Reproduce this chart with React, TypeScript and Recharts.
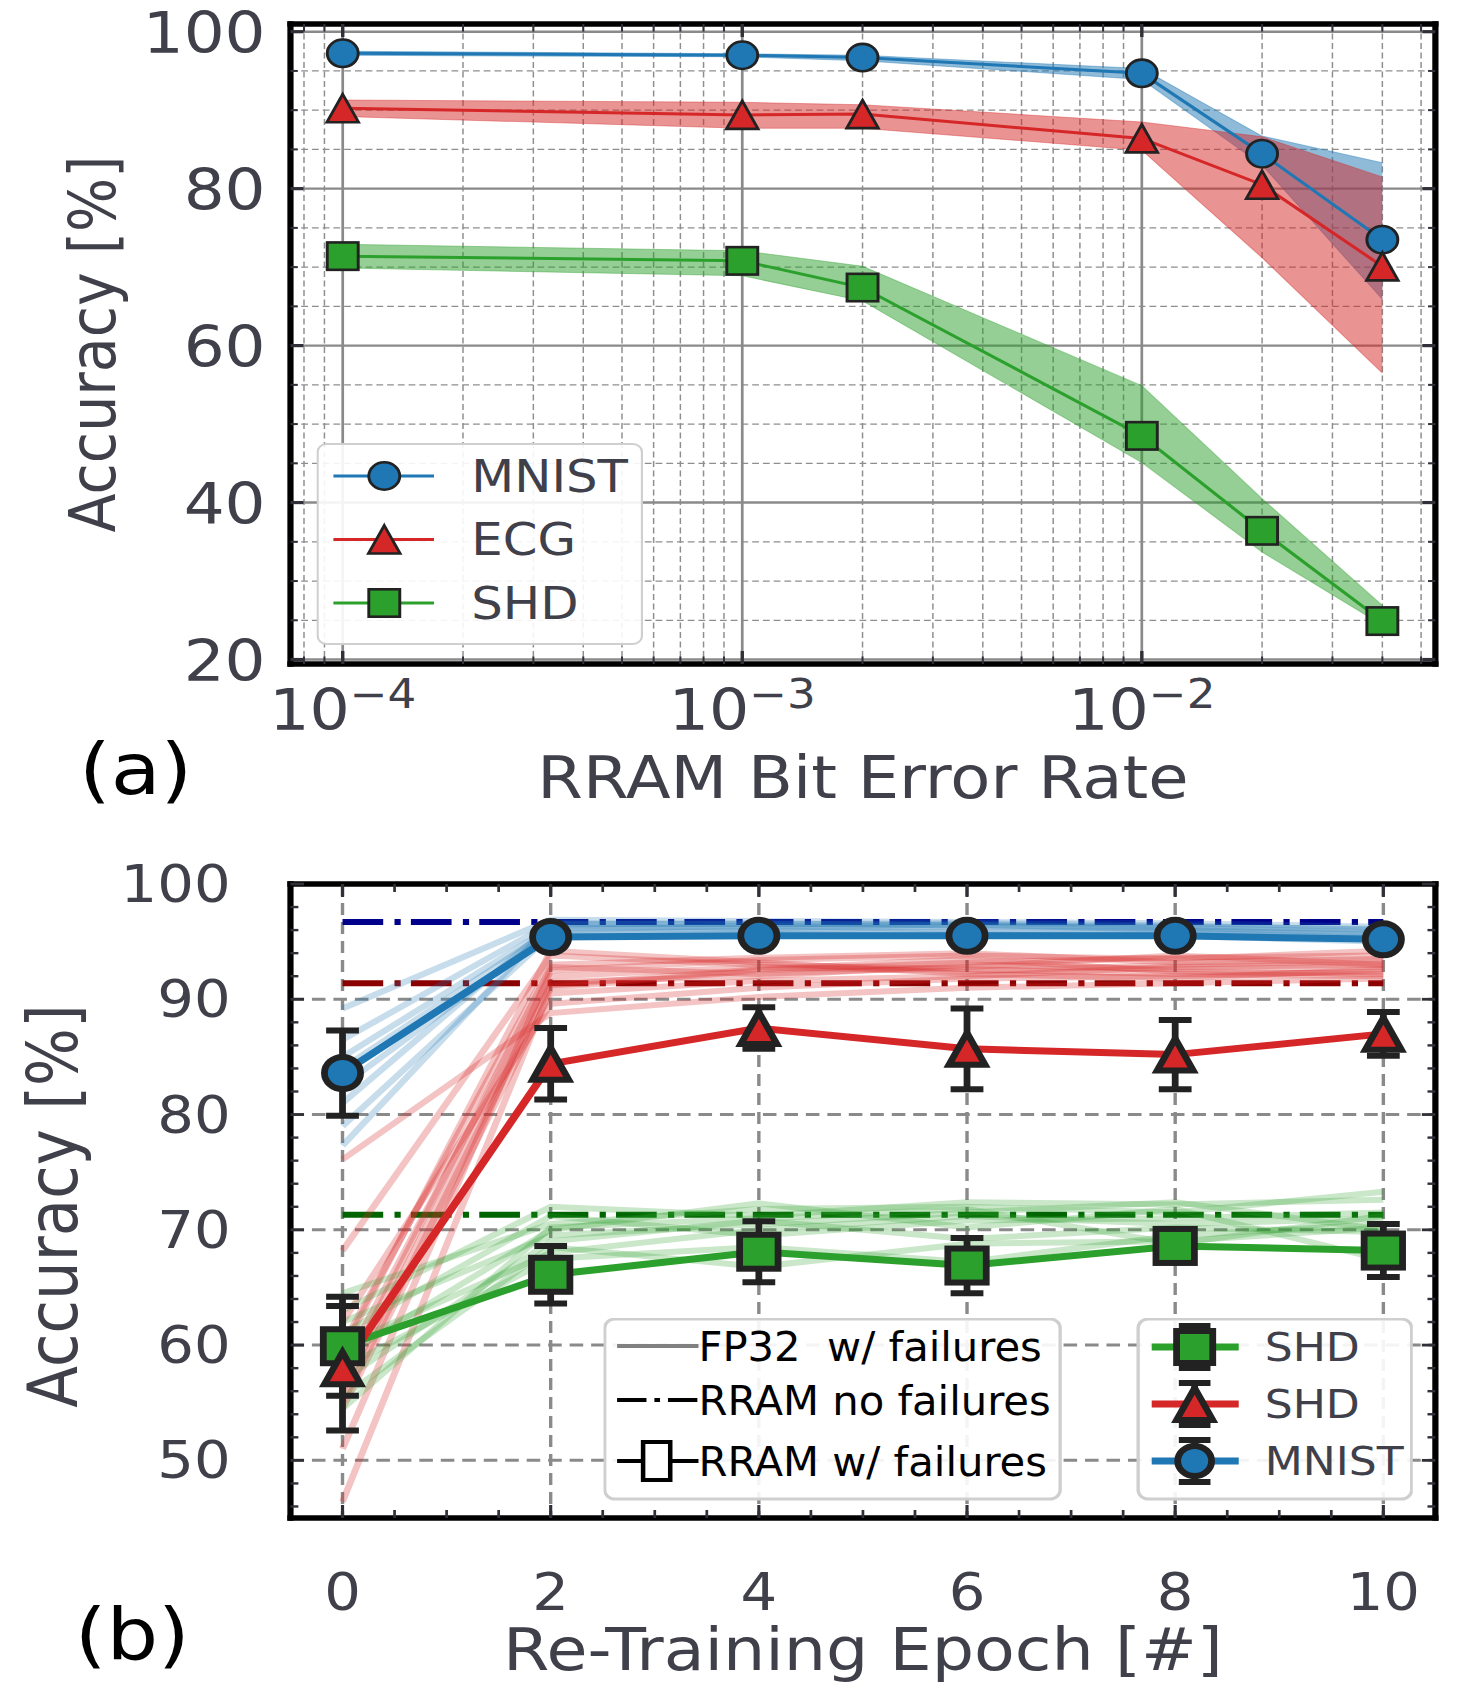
import React from "react";
import {
  Area,
  CartesianGrid,
  ComposedChart,
  ErrorBar,
  Legend,
  Line,
  XAxis,
  YAxis,
} from "recharts";

// The reference is a little wider than tall-true: draw narrow, then stretch on x.
const FIG_W = 1458;
const INNER_W = 1290;
const STRETCH = FIG_W / INNER_W;

const FONT = "'DejaVu Sans', sans-serif";
const FONT_COND = "'DejaVu Sans Condensed', 'DejaVu Sans', sans-serif";
const INK = "#40404a";
const TICK = "#303038";
const BLUE = "#1f77b4";
const RED = "#d62728";
const GREEN = "#2ca02c";
const EDGE = "#222222";
const FRAME = { stroke: "#000", strokeWidth: 5.5, strokeLinecap: "square" as const };

// ---------- (a) accuracy vs RRAM bit error rate ----------
const bitErrorRates = [1e-4, 1e-3, 2e-3, 1e-2, 2e-2, 4e-2];
const mnistAcc = [97.25, 97.0, 96.7, 94.7, 84.45, 73.5];
const mnistLow = [97.0, 96.8, 96.3, 93.9, 83.0, 65.9];
const mnistHigh = [97.5, 97.2, 97.0, 95.3, 86.7, 83.3];
const ecgAcc = [90.25, 89.4, 89.5, 86.4, 80.5, 70.1];
const ecgLow = [89.2, 87.7, 87.7, 84.9, 71.2, 56.5];
const ecgHigh = [91.3, 91.0, 90.7, 88.5, 86.6, 81.5];
const shdAcc = [71.4, 70.8, 67.4, 48.5, 36.4, 24.9];
const shdLow = [69.9, 68.9, 65.7, 45.1, 33.7, 24.4];
const shdHigh = [72.9, 72.1, 70.1, 54.9, 40.5, 26.9];

const berDomain = [7.4e-5, 0.0543];
const berMajor = [1e-4, 1e-3, 1e-2];
const berExponents = ["−4", "−3", "−2"];
const berMinor = [
  8e-5, 9e-5, 2e-4, 3e-4, 4e-4, 5e-4, 6e-4, 7e-4, 8e-4, 9e-4, 2e-3, 3e-3,
  4e-3, 5e-3, 6e-3, 7e-3, 8e-3, 9e-3, 2e-2, 3e-2, 4e-2, 5e-2,
];
const accDomainA = [19.43, 100.98];
const accMajorA = [20, 40, 60, 80, 100];
const accMinorA = [25, 30, 35, 45, 50, 55, 65, 70, 75, 85, 90, 95];
const legendA = ["MNIST", "ECG", "SHD"];

const tableA = bitErrorRates.map((ber, i) => ({
  ber,
  mnist: mnistAcc[i],
  mnistBand: [mnistLow[i], mnistHigh[i]],
  ecg: ecgAcc[i],
  ecgBand: [ecgLow[i], ecgHigh[i]],
  shd: shdAcc[i],
  shdBand: [shdLow[i], shdHigh[i]],
}));

// ---------- (b) accuracy vs re-training epoch ----------
const epochs = [0, 2, 4, 6, 8, 10];
const mnistMean = [83.6, 95.4, 95.5, 95.5, 95.5, 95.2];
const mnistStd = [3.7, 0.4, 0.3, 0.3, 0.3, 0.4];
const ecgMean = [58.0, 84.4, 87.5, 85.7, 85.2, 87.0];
const ecgStd = [5.4, 3.1, 1.8, 3.5, 3.0, 1.9];
const shdMean = [59.9, 66.1, 68.1, 66.9, 68.6, 68.2];
const shdStd = [4.3, 2.5, 2.65, 2.4, 1.2, 2.3];
const mnistNoFailure = 96.7;
const ecgNoFailure = 91.4;
const shdNoFailure = 71.3;

// single runs with failures (faint lines)
const mnistRuns = [
  [89.2, 96.9, 96.8, 96.7, 96.6, 96.3],
  [86.5, 96.6, 96.5, 96.6, 96.4, 96.0],
  [85.0, 96.2, 96.1, 96.3, 96.2, 95.8],
  [84.0, 96.0, 96.4, 96.0, 95.9, 95.5],
  [82.5, 95.8, 95.9, 95.8, 95.8, 95.3],
  [81.0, 96.4, 96.2, 96.5, 96.0, 95.6],
  [79.0, 95.6, 95.7, 95.6, 95.5, 95.0],
  [77.3, 96.5, 96.6, 96.4, 96.3, 96.1],
];
const ecgRuns = [
  [76.1, 88.8, 90.2, 91.0, 91.4, 91.8],
  [68.2, 93.8, 93.0, 92.6, 92.2, 92.0],
  [51.0, 92.5, 93.4, 93.8, 93.5, 94.2],
  [46.4, 91.0, 92.5, 93.2, 93.6, 93.8],
  [58.0, 92.0, 92.8, 92.4, 93.0, 93.3],
  [56.0, 91.5, 92.0, 93.0, 92.6, 92.8],
  [54.5, 90.5, 91.6, 92.0, 92.8, 93.0],
  [60.0, 93.0, 93.6, 94.0, 93.2, 93.5],
  [62.0, 89.6, 91.0, 91.8, 92.0, 92.4],
  [57.0, 92.8, 92.2, 92.8, 93.8, 93.0],
  [55.0, 91.2, 92.6, 93.5, 92.4, 92.2],
  [59.5, 94.2, 93.2, 92.2, 91.8, 92.6],
];
const shdRuns = [
  [64.5, 70.5, 71.8, 72.0, 71.5, 73.3],
  [63.0, 72.0, 71.2, 72.4, 72.2, 72.6],
  [62.0, 69.5, 70.5, 71.5, 72.4, 70.0],
  [61.0, 71.2, 69.5, 70.8, 71.0, 71.5],
  [60.0, 68.0, 70.0, 71.2, 70.5, 71.0],
  [59.0, 70.0, 72.3, 70.2, 71.8, 67.4],
  [58.0, 67.5, 68.5, 67.2, 69.5, 70.5],
  [57.0, 69.0, 70.8, 69.2, 70.2, 69.8],
  [55.5, 68.5, 66.8, 68.8, 69.0, 70.2],
  [54.5, 70.2, 71.0, 71.8, 68.8, 71.2],
];

const epochDomain = [-0.5, 10.5];
const epochMajor = [0, 2, 4, 6, 8, 10];
const epochTicks = [0, 0.5, 1, 1.5, 2, 2.5, 3, 3.5, 4, 4.5, 5, 5.5, 6, 6.5, 7, 7.5, 8, 8.5, 9, 9.5, 10];
const accDomainB = [45, 100];
const accMajorB = [50, 60, 70, 80, 90, 100];
const accTicksB = [
  46, 48, 50, 52, 54, 56, 58, 60, 62, 64, 66, 68, 70, 72, 74, 76, 78, 80, 82,
  84, 86, 88, 90, 92, 94, 96, 98, 100,
];
const accGridB = [50, 60, 70, 80, 90];
const styleLegend = ["FP32  w/ failures", "RRAM no failures", "RRAM w/ failures"];
const datasetLegend = ["SHD", "SHD", "MNIST"];

const tableB = epochs.map((epoch, i) => {
  const row: Record<string, number> = {
    epoch,
    mnist: mnistMean[i],
    mnistErr: mnistStd[i],
    ecg: ecgMean[i],
    ecgErr: ecgStd[i],
    shd: shdMean[i],
    shdErr: shdStd[i],
    mnistRef: mnistNoFailure,
    ecgRef: ecgNoFailure,
    shdRef: shdNoFailure,
  };
  mnistRuns.forEach((run, k) => (row[`mnistRun${k}`] = run[i]));
  ecgRuns.forEach((run, k) => (row[`ecgRun${k}`] = run[i]));
  shdRuns.forEach((run, k) => (row[`shdRun${k}`] = run[i]));
  return row;
});

// ---------- shared drawing helpers ----------
type Shape = "circle" | "triangle" | "square";
type Side = "bottom" | "top" | "left" | "right";

function MarkerShape({ cx, cy, shape, fill, size, edgeWidth }: any) {
  if (cx == null || cy == null) return <g />;
  const common = { fill, stroke: EDGE, strokeWidth: edgeWidth, strokeLinejoin: "miter" as const };
  if (shape === "circle") return <circle cx={cx} cy={cy} r={size} {...common} />;
  if (shape === "square")
    return <rect x={cx - size} y={cy - size} width={size * 2} height={size * 2} {...common} />;
  return (
    <path
      d={`M${cx},${cy - size}L${cx + size},${cy + size}L${cx - size},${cy + size}Z`}
      {...common}
    />
  );
}

const dotRenderer = (shape: Shape, fill: string, size: number, edgeWidth: number) => (props: any) => (
  <MarkerShape
    key={`dot-${shape}-${props.index}`}
    cx={props.cx}
    cy={props.cy}
    shape={shape}
    fill={fill}
    size={size}
    edgeWidth={edgeWidth}
  />
);

const near = (a: number, b: number) => Math.abs(a - b) <= Math.abs(b) * 1e-6 + 1e-9;

function makeTick(
  side: Side,
  majors: number[],
  len: [number, number],
  widths: [number, number],
  label?: (value: number, x: number, y: number) => React.ReactNode
) {
  return (props: any) => {
    const { x, y, payload, index } = props;
    const v = Number(payload.value);
    const major = majors.some((m) => near(v, m));
    const l = major ? len[0] : len[1];
    const x2 = side === "left" ? x + l : side === "right" ? x - l : x;
    const y2 = side === "bottom" ? y - l : side === "top" ? y + l : y;
    return (
      <g key={`${side}-${index}`}>
        <line x1={x} y1={y} x2={x2} y2={y2} stroke={TICK} strokeWidth={major ? widths[0] : widths[1]} />
        {major && label ? label(v, x, y) : null}
      </g>
    );
  };
}

const berLabel = (v: number, x: number, y: number) => {
  const i = berMajor.findIndex((m) => near(v, m));
  return (
    <text x={x} y={y + 66} textAnchor="middle" fontSize={56} fill={INK} fontFamily={FONT}>
      10
      <tspan fontSize={40} dy={-22}>
        {berExponents[i]}
      </tspan>
    </text>
  );
};

const accLabelA = (v: number, x: number, y: number) => (
  <text x={x - 22} y={y + 21} textAnchor="end" fontSize={57} fill={INK} fontFamily={FONT}>
    {v}
  </text>
);

const accLabelB = (v: number, x: number, y: number) => (
  <text x={x - 53} y={y + 18} textAnchor="end" fontSize={51} fill={INK} fontFamily={FONT}>
    {v}
  </text>
);

const epochLabel = (v: number, x: number, y: number) => (
  <text x={x} y={y + 92} textAnchor="middle" fontSize={51} fill={INK} fontFamily={FONT}>
    {v}
  </text>
);

function LegendA() {
  const rows: [Shape, string][] = [
    ["circle", BLUE],
    ["triangle", RED],
    ["square", GREEN],
  ];
  return (
    <svg width={289} height={202} style={{ display: "block" }}>
      <rect x={1} y={1} width={287} height={200} rx={8} fill="#fff" fillOpacity={0.9} stroke="#cfcfcf" strokeWidth={2} />
      {rows.map(([shape, color], i) => {
        const cy = 33 + i * 63.5;
        return (
          <g key={legendA[i]}>
            <line x1={15} x2={104} y1={cy} y2={cy} stroke={color} strokeWidth={3} />
            <MarkerShape cx={60} cy={cy} shape={shape} fill={color} size={shape === "triangle" ? 14 : 13.7} edgeWidth={2.6} />
            <text x={137} y={cy + 16} fontSize={44} fill={INK} fontFamily={FONT}>
              {legendA[i]}
            </text>
          </g>
        );
      })}
    </svg>
  );
}

function LegendB() {
  const rightRows: [Shape, string, number][] = [
    ["square", GREEN, 29],
    ["triangle", RED, 86],
    ["circle", BLUE, 143],
  ];
  const rowY = [28, 82, 143];
  return (
    <svg width={716} height={183} style={{ display: "block" }}>
      <rect x={1} y={1} width={403} height={180} rx={9} fill="#fff" fillOpacity={0.9} stroke="#cfcfcf" strokeWidth={3} />
      <line x1={12} x2={84} y1={rowY[0]} y2={rowY[0]} stroke="#808080" strokeWidth={4} />
      <line x1={12} x2={84} y1={rowY[1]} y2={rowY[1]} stroke="#000" strokeWidth={4} strokeDasharray="26 7 5 7" />
      <line x1={12} x2={84} y1={rowY[2]} y2={rowY[2]} stroke="#000" strokeWidth={4} />
      <rect x={35} y={rowY[2] - 19} width={24} height={38} fill="#fff" stroke="#000" strokeWidth={4} />
      {styleLegend.map((t, i) => (
        <text
          key={t}
          x={84}
          y={rowY[i] + 15}
          fontSize={41}
          fill="#000"
          fontFamily={FONT_COND}
          style={{ whiteSpace: "pre", fontStretch: "condensed" }}
        >
          {t}
        </text>
      ))}
      <rect x={473} y={1} width={242} height={180} rx={9} fill="#fff" fillOpacity={0.9} stroke="#cfcfcf" strokeWidth={3} />
      {rightRows.map(([shape, color, cy], i) => (
        <g key={`${datasetLegend[i]}-${i}`}>
          <line x1={485} x2={562} y1={cy} y2={cy} stroke={color} strokeWidth={7} />
          <line x1={523} x2={523} y1={cy - 21} y2={cy + 21} stroke={EDGE} strokeWidth={6} />
          <line x1={509} x2={537} y1={cy - 21} y2={cy - 21} stroke={EDGE} strokeWidth={6} />
          <line x1={509} x2={537} y1={cy + 21} y2={cy + 21} stroke={EDGE} strokeWidth={6} />
          <MarkerShape cx={523} cy={cy} shape={shape} fill={color} size={shape === "circle" ? 15 : 16} edgeWidth={6} />
          <text x={585} y={cy + 14} fontSize={39} fill={INK} fontFamily={FONT}>
            {datasetLegend[i]}
          </text>
        </g>
      ))}
    </svg>
  );
}

function PanelTag({ text, x, y, w, h }: { text: string; x: number; y: number; w: number; h: number }) {
  return (
    <svg width={w} height={h} style={{ position: "absolute", left: 0, top: 0, pointerEvents: "none" }}>
      <text x={x} y={y} textAnchor="middle" fontSize={72} fill="#000" fontFamily={FONT}>
        {text}
      </text>
    </svg>
  );
}

function ChartA() {
  const H = 840;
  return (
    <div style={{ position: "relative", width: INNER_W, height: H }}>
      <ComposedChart width={INNER_W} height={H} data={tableA} margin={{ top: 23, right: 19, bottom: 0, left: 0 }}>
        <CartesianGrid
          horizontalValues={accMinorA}
          verticalValues={berMinor}
          stroke="#8e8e8e"
          strokeWidth={1.3}
          strokeDasharray="6 3.5"
        />
        <CartesianGrid horizontalValues={accMajorA} verticalValues={berMajor} stroke="#8a8a8a" strokeWidth={2.4} />
        <XAxis
          dataKey="ber"
          type="number"
          scale="log"
          domain={berDomain}
          allowDataOverflow
          ticks={[...berMajor, ...berMinor]}
          interval={0}
          tickSize={0}
          tickMargin={0}
          tickLine={false}
          stroke="#000"
          axisLine={FRAME}
          height={176}
          tick={makeTick("bottom", berMajor, [13, 7.5], [3, 1.8], berLabel)}
          label={(p: any) => (
            <text
              x={p.viewBox.x + p.viewBox.width / 2}
              y={p.viewBox.y + 134}
              textAnchor="middle"
              fontSize={58}
              fill={INK}
              fontFamily={FONT}
            >
              RRAM Bit Error Rate
            </text>
          )}
        />
        <XAxis
          xAxisId="top"
          orientation="top"
          dataKey="ber"
          type="number"
          scale="log"
          domain={berDomain}
          allowDataOverflow
          ticks={[...berMajor, ...berMinor]}
          interval={0}
          tickSize={0}
          tickMargin={0}
          tickLine={false}
          stroke="#000"
          axisLine={FRAME}
          height={1}
          tick={makeTick("top", berMajor, [13, 7.5], [3, 1.8])}
        />
        <YAxis
          type="number"
          domain={accDomainA}
          allowDataOverflow
          ticks={[...accMajorA, ...accMinorA]}
          interval={0}
          tickSize={0}
          tickMargin={0}
          tickLine={false}
          stroke="#000"
          axisLine={FRAME}
          width={257}
          tick={makeTick("left", accMajorA, [11.5, 6.5], [3.2, 2], accLabelA)}
          label={(p: any) => {
            const cx = 102;
            const cy = p.viewBox.y + p.viewBox.height / 2;
            return (
              <text
                x={cx}
                y={cy}
                transform={`rotate(-90, ${cx}, ${cy})`}
                textAnchor="middle"
                fontSize={57}
                fill={INK}
                fontFamily={FONT}
              >
                Accuracy [%]
              </text>
            );
          }}
        />
        <YAxis
          yAxisId="right"
          orientation="right"
          type="number"
          domain={accDomainA}
          allowDataOverflow
          ticks={[...accMajorA, ...accMinorA]}
          interval={0}
          tickSize={0}
          tickMargin={0}
          tickLine={false}
          stroke="#000"
          axisLine={FRAME}
          width={1}
          tick={makeTick("right", accMajorA, [11.5, 6.5], [3.2, 2])}
        />
        <Area dataKey="mnistBand" type="linear" fill={BLUE} fillOpacity={0.5} stroke={BLUE} strokeOpacity={0.4} strokeWidth={1} dot={false} activeDot={false} isAnimationActive={false} />
        <Area dataKey="ecgBand" type="linear" fill={RED} fillOpacity={0.5} stroke={RED} strokeOpacity={0.4} strokeWidth={1} dot={false} activeDot={false} isAnimationActive={false} />
        <Area dataKey="shdBand" type="linear" fill={GREEN} fillOpacity={0.5} stroke={GREEN} strokeOpacity={0.4} strokeWidth={1} dot={false} activeDot={false} isAnimationActive={false} />
        <Line dataKey="mnist" type="linear" stroke={BLUE} strokeWidth={3} dot={dotRenderer("circle", BLUE, 13.7, 2.6)} activeDot={false} isAnimationActive={false} />
        <Line dataKey="ecg" type="linear" stroke={RED} strokeWidth={3} dot={dotRenderer("triangle", RED, 14, 2.6)} activeDot={false} isAnimationActive={false} />
        <Line dataKey="shd" type="linear" stroke={GREEN} strokeWidth={3} dot={dotRenderer("square", GREEN, 13.7, 2.6)} activeDot={false} isAnimationActive={false} />
        <Legend
          layout="horizontal"
          verticalAlign="middle"
          align="center"
          wrapperStyle={{ left: 279.5, top: 443, width: 289, height: 202 }}
          content={() => <LegendA />}
        />
      </ComposedChart>
      <PanelTag text="(a)" x={120} y={794} w={INNER_W} h={H} />
    </div>
  );
}

function ChartB() {
  const H = 866;
  return (
    <div style={{ position: "relative", width: INNER_W, height: H }}>
      <ComposedChart width={INNER_W} height={H} data={tableB} margin={{ top: 43, right: 19, bottom: 0, left: 0 }}>
        <CartesianGrid
          horizontalValues={accGridB}
          verticalValues={epochMajor}
          stroke="#8a8a8a"
          strokeWidth={3}
          strokeDasharray="12 7"
        />
        <XAxis
          dataKey="epoch"
          type="number"
          domain={epochDomain}
          allowDataOverflow
          ticks={epochTicks}
          interval={0}
          tickSize={0}
          tickMargin={0}
          tickLine={false}
          stroke="#000"
          axisLine={FRAME}
          height={188}
          tick={makeTick("bottom", epochMajor, [13, 8], [2.8, 2.4], epochLabel)}
          label={(p: any) => (
            <text
              x={p.viewBox.x + p.viewBox.width / 2}
              y={p.viewBox.y + 152}
              textAnchor="middle"
              fontSize={59}
              fill={INK}
              fontFamily={FONT}
            >
              Re-Training Epoch [#]
            </text>
          )}
        />
        <XAxis
          xAxisId="top"
          orientation="top"
          dataKey="epoch"
          type="number"
          domain={epochDomain}
          allowDataOverflow
          ticks={epochTicks}
          interval={0}
          tickSize={0}
          tickMargin={0}
          tickLine={false}
          stroke="#000"
          axisLine={FRAME}
          height={1}
          tick={makeTick("top", epochMajor, [13, 8], [2.8, 2.4])}
        />
        <YAxis
          type="number"
          domain={accDomainB}
          allowDataOverflow
          ticks={accTicksB}
          interval={0}
          tickSize={0}
          tickMargin={0}
          tickLine={false}
          stroke="#000"
          axisLine={FRAME}
          width={257}
          tick={makeTick("left", accMajorB, [12, 7], [2.8, 2.4], accLabelB)}
          label={(p: any) => {
            const cx = 68;
            const cy = p.viewBox.y + p.viewBox.height / 2 + 5;
            return (
              <text
                x={cx}
                y={cy}
                transform={`rotate(-90, ${cx}, ${cy})`}
                textAnchor="middle"
                fontSize={61}
                fill={INK}
                fontFamily={FONT}
              >
                Accuracy [%]
              </text>
            );
          }}
        />
        <YAxis
          yAxisId="right"
          orientation="right"
          type="number"
          domain={accDomainB}
          allowDataOverflow
          ticks={accTicksB}
          interval={0}
          tickSize={0}
          tickMargin={0}
          tickLine={false}
          stroke="#000"
          axisLine={FRAME}
          width={1}
          tick={makeTick("right", accMajorB, [12, 7], [2.8, 2.4])}
        />
        <Line dataKey="mnistRef" stroke="#00008b" strokeWidth={6} strokeDasharray="36 10 5.5 9" dot={false} activeDot={false} isAnimationActive={false} />
        <Line dataKey="ecgRef" stroke="#8b0000" strokeWidth={6} strokeDasharray="36 10 5.5 9" dot={false} activeDot={false} isAnimationActive={false} />
        <Line dataKey="shdRef" stroke="#006400" strokeWidth={6} strokeDasharray="36 10 5.5 9" dot={false} activeDot={false} isAnimationActive={false} />
        {mnistRuns.map((_, k) => (
          <Line key={`m${k}`} dataKey={`mnistRun${k}`} stroke={BLUE} strokeOpacity={0.25} strokeWidth={6} dot={false} activeDot={false} isAnimationActive={false} />
        ))}
        {ecgRuns.map((_, k) => (
          <Line key={`e${k}`} dataKey={`ecgRun${k}`} stroke={RED} strokeOpacity={0.28} strokeWidth={6} dot={false} activeDot={false} isAnimationActive={false} />
        ))}
        {shdRuns.map((_, k) => (
          <Line key={`s${k}`} dataKey={`shdRun${k}`} stroke={GREEN} strokeOpacity={0.25} strokeWidth={6} dot={false} activeDot={false} isAnimationActive={false} />
        ))}
        <Line dataKey="shd" stroke={GREEN} strokeWidth={7} dot={dotRenderer("square", GREEN, 17, 6)} activeDot={false} isAnimationActive={false}>
          <ErrorBar dataKey="shdErr" direction="y" width={14.5} stroke={EDGE} strokeWidth={6} />
        </Line>
        <Line dataKey="ecg" stroke={RED} strokeWidth={7} dot={dotRenderer("triangle", RED, 16, 6)} activeDot={false} isAnimationActive={false}>
          <ErrorBar dataKey="ecgErr" direction="y" width={14.5} stroke={EDGE} strokeWidth={6} />
        </Line>
        <Line dataKey="mnist" stroke={BLUE} strokeWidth={7} dot={dotRenderer("circle", BLUE, 16, 6)} activeDot={false} isAnimationActive={false}>
          <ErrorBar dataKey="mnistErr" direction="y" width={14.5} stroke={EDGE} strokeWidth={6} />
        </Line>
        <Legend
          layout="horizontal"
          verticalAlign="middle"
          align="center"
          wrapperStyle={{ left: 533.5, top: 478, width: 716, height: 183 }}
          content={() => <LegendB />}
        />
      </ComposedChart>
      <PanelTag text="(b)" x={117} y={819} w={INNER_W} h={H} />
    </div>
  );
}

export default function App() {
  return (
    <div
      style={{
        position: "absolute",
        left: 0,
        top: 0,
        width: FIG_W,
        height: 1706,
        background: "#fff",
        overflow: "hidden",
      }}
    >
      <div style={{ width: INNER_W, transform: `scaleX(${STRETCH})`, transformOrigin: "0 0" }}>
        <ChartA />
        <ChartB />
      </div>
    </div>
  );
}
